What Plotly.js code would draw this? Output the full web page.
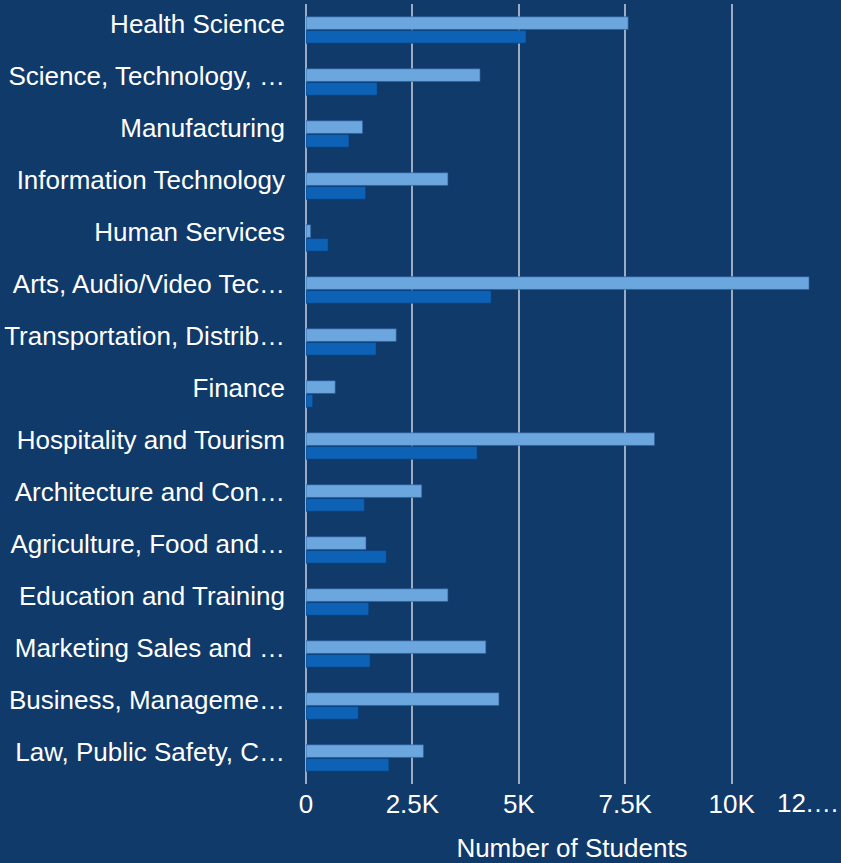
<!DOCTYPE html>
<html>
<head>
<meta charset="utf-8">
<script src="https://cdn.plot.ly/plotly-3.0.1.min.js"></script>
<style>
html,body{margin:0;padding:0;background:#103a6a;}
#chart{width:841px;height:863px;}
</style>
</head>
<body>
<div id="chart"></div>
<script>
const categories = [
  "Health Science",
  "Science, Technology, …",
  "Manufacturing",
  "Information Technology",
  "Human Services",
  "Arts, Audio/Video Tec…",
  "Transportation, Distrib…",
  "Finance",
  "Hospitality and Tourism",
  "Architecture and Con…",
  "Agriculture, Food and…",
  "Education and Training",
  "Marketing Sales and …",
  "Business, Manageme…",
  "Law, Public Safety, C…"
];
const seriesA = [7570, 4090, 1330, 3335, 110, 11820, 2120, 686, 8190, 2720, 1410, 3335, 4226, 4534, 2760];
const seriesB = [5170, 1672, 1010, 1403, 520, 4352, 1648, 158, 4021, 1372, 1885, 1474, 1506, 1230, 1947];
const tickVals = [0, 2500, 5000, 7500, 10000, 12500];
const tickText = ["0", "2.5K", "5K", "7.5K", "10K", ""];
const lastTickLabel = "12.…";

const font = {family: "Liberation Sans, Arial, sans-serif", size: 26, color: "#ffffff"};

const traces = [
  {type: "bar", orientation: "h", y: categories, x: seriesA, name: "A",
   marker: {color: "#6ba6de", line: {color: "rgba(40,90,150,0.6)", width: 1}}, hoverinfo: "x+y"},
  {type: "bar", orientation: "h", y: categories, x: seriesB, name: "B",
   marker: {color: "#0e62b6", line: {color: "rgba(10,60,120,0.6)", width: 1}}, hoverinfo: "x+y"}
];

const layout = {
  width: 841, height: 863,
  paper_bgcolor: "#103a6a", plot_bgcolor: "#103a6a",
  margin: {l: 306, r: 3, t: 4, b: 79, pad: 0},
  showlegend: false,
  barmode: "group", bargap: 0.47, bargroupgap: 0.08,
  font: font,
  xaxis: {
    range: [0, 12500], tickvals: tickVals, ticktext: tickText,
    showgrid: true, gridcolor: "rgba(200,210,225,0.75)", gridwidth: 2,
    zeroline: true, zerolinecolor: "rgba(200,210,225,0.75)", zerolinewidth: 2,
    showline: false, ticks: "", ticklabelstandoff: 2,
    tickfont: font,
    title: {text: "Number of Students", font: font, standoff: 22}
  },
  yaxis: {
    autorange: "reversed", showgrid: false, zeroline: false, showline: false,
    ticks: "", ticklabelstandoff: 20, ticklabelshift: 6, tickfont: font, automargin: false
  },
  annotations: [
    {x: 12500, y: 0, xref: "x", yref: "paper", yanchor: "top", xanchor: "right",
     yshift: -2, xshift: 3, text: lastTickLabel, showarrow: false, font: font}
  ]
};

Plotly.newPlot("chart", traces, layout, {displayModeBar: false, staticPlot: true});
</script>
</body>
</html>
